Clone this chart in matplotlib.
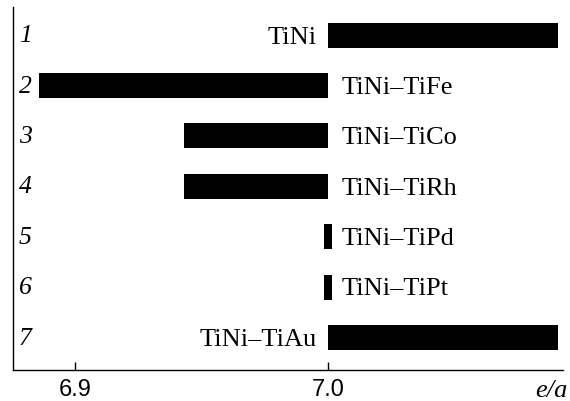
import matplotlib
matplotlib.use("Agg")
import matplotlib.pyplot as plt
from matplotlib.transforms import blended_transform_factory

# e/a ranges for each alloy system
rows = ["1", "2", "3", "4", "5", "6", "7"]
systems = ["TiNi", "TiNi–TiFe", "TiNi–TiCo", "TiNi–TiRh", "TiNi–TiPd", "TiNi–TiPt", "TiNi–TiAu"]
ea_lo = [7.000, 6.886, 6.943, 6.943, 6.9985, 6.9985, 7.000]
ea_hi = [7.091, 7.000, 7.000, 7.000, 7.0015, 7.0015, 7.091]
label_left = [True, False, False, False, False, False, True]


def main():
    fig = plt.figure(figsize=(5.7, 4.02), dpi=100)
    ax = fig.add_axes([0.0233, 0.0771, 0.9644, 0.9022])

    ypos = list(range(1, len(rows) + 1))
    widths = [h - l for l, h in zip(ea_lo, ea_hi)]
    ax.barh(ypos, widths, left=ea_lo, height=0.496, color="black")

    for y, name, left in zip(ypos, systems, label_left):
        if left:
            ax.annotate(name, (7.0, y), xytext=(-8, -1), textcoords="offset points",
                        ha="right", va="center", fontsize=19, family="Liberation Serif")
        else:
            ax.annotate(name, (7.0, y), xytext=(10, -1), textcoords="offset points",
                        ha="left", va="center", fontsize=19, family="Liberation Serif")

    trans = blended_transform_factory(ax.transAxes, ax.transData)
    for y, r in zip(ypos, rows):
        ax.text(0.0215, y, r, transform=trans, ha="center", va="center",
                fontsize=18.5, family="Liberation Serif", style="italic")

    ax.set_xlim(6.8757, 7.0929)
    ax.set_ylim(7.645, 0.448)
    ax.set_xticks([6.9, 7.0])
    ax.set_xticklabels(["6.9", "7.0"], family="Liberation Sans", fontsize=17)
    ax.set_yticks([])
    ax.tick_params(axis="x", direction="in", length=6, width=1, pad=6)
    ax.spines["top"].set_visible(False)
    ax.spines["right"].set_visible(False)
    for s in ("left", "bottom"):
        ax.spines[s].set_linewidth(1.0)

    ax.text(1.008, -0.055, "e/a", transform=ax.transAxes, ha="right", va="center",
            fontsize=19, family="Liberation Serif", style="italic")

    fig.savefig("out.png", dpi=100)


if __name__ == "__main__":
    main()
